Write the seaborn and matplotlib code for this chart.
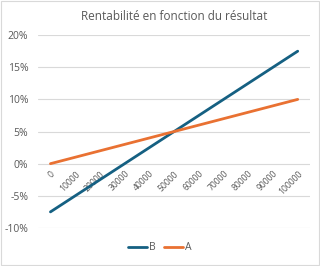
import numpy as np
import pandas as pd
import matplotlib
matplotlib.use('Agg')
import matplotlib.pyplot as plt
import seaborn as sns
from matplotlib.patches import Rectangle

# données
resultat = [0, 10000, 20000, 30000, 40000, 50000, 60000, 70000, 80000, 90000, 100000]
rent_a = [0.0, 0.01, 0.02, 0.03, 0.04, 0.05, 0.06, 0.07, 0.08, 0.09, 0.10]
rent_b = [-0.075, -0.05, -0.025, 0.0, 0.025, 0.05, 0.075, 0.10, 0.125, 0.15, 0.175]
y_ticks = [-0.10, -0.05, 0.0, 0.05, 0.10, 0.15, 0.20]

df = pd.DataFrame({
    'pos': list(range(len(resultat))) * 2,
    'val': rent_b + rent_a,
    'serie': ['B'] * len(resultat) + ['A'] * len(resultat),
})

sns.set_style('white')
plt.rcParams['font.family'] = ['Open Sans', 'DejaVu Sans']

fig = plt.figure(figsize=(3.2, 2.66), dpi=100)
ax = fig.add_axes([0.119, 0.143, 0.85, 0.725])

for t in y_ticks:
    ax.axhline(t, color='#d9d9d9', lw=0.8, zorder=0)

sns.lineplot(data=df, x='pos', y='val', hue='serie', hue_order=['B', 'A'],
             palette={'B': '#156082', 'A': '#E97132'}, linewidth=2, ax=ax, legend=False)

ax.set_xlim(-0.5, len(resultat) - 0.5)
ax.set_ylim(-0.10, 0.20)
ax.set_yticks(y_ticks)
ax.set_yticklabels([f'{int(round(t * 100))}%' for t in y_ticks], fontsize=7.5, color='#595959')
ax.tick_params(axis='y', length=0, pad=7)

# axe des catégories croisant à 0
ax.spines['bottom'].set_position(('data', 0))
for s in ['top', 'right', 'left', 'bottom']:
    ax.spines[s].set_visible(False)
ax.set_xticks(range(len(resultat)))
ax.set_xticklabels([str(r) for r in resultat], rotation=45, ha='right', va='top',
                   rotation_mode='anchor', fontsize=6.2, color='#595959')
ax.tick_params(axis='x', length=0, pad=4)
ax.set_xlabel('')
ax.set_ylabel('')

ax.set_title('Rentabilité en fonction du résultat', fontsize=8.5, color='#595959', pad=11)

handles = [plt.Line2D([], [], color='#156082', lw=2), plt.Line2D([], [], color='#E97132', lw=2)]
leg = fig.legend(handles, ['B', 'A'], loc='center', bbox_to_anchor=(0.5, 0.068), ncol=2,
                 frameon=False, fontsize=7.5, handlelength=1.8, columnspacing=0.8,
                 handletextpad=0.2)
for txt in leg.get_texts():
    txt.set_color('#595959')

fig.patches.append(Rectangle((0.002, 0.002), 0.994, 0.994, transform=fig.transFigure,
                             fill=False, edgecolor='#d9d9d9', lw=0.8))

fig.savefig('out.png', dpi=100)
